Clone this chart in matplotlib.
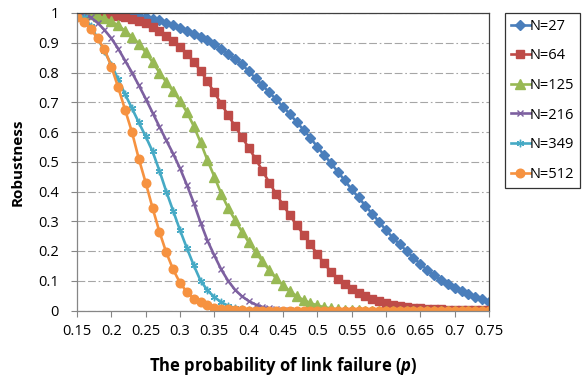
import numpy as np
import matplotlib
matplotlib.use("Agg")
import matplotlib.pyplot as plt

# link failure probability, 0.15 .. 0.75 in steps of 0.01
p = np.round(np.arange(0.15, 0.7501, 0.01), 2)

n27 = [1.0, 1.0, 1.0, 1.0, 0.999, 0.998, 0.997, 0.995, 0.992, 0.989,
       0.985, 0.98, 0.975, 0.967, 0.96, 0.95, 0.94, 0.93, 0.92, 0.91,
       0.897, 0.88, 0.862, 0.845, 0.827, 0.805, 0.78, 0.757, 0.733, 0.71,
       0.685, 0.66, 0.633, 0.607, 0.58, 0.55, 0.522, 0.495, 0.466, 0.437,
       0.407, 0.38, 0.352, 0.325, 0.298, 0.27, 0.245, 0.222, 0.2, 0.178,
       0.156, 0.136, 0.118, 0.102, 0.088, 0.075, 0.065, 0.055, 0.046, 0.038,
       0.03]
n64 = [1.0, 1.0, 1.0, 0.998, 0.996, 0.993, 0.99, 0.986, 0.98, 0.973,
       0.965, 0.953, 0.938, 0.922, 0.905, 0.885, 0.863, 0.836, 0.806, 0.77,
       0.733, 0.695, 0.657, 0.62, 0.584, 0.547, 0.51, 0.47, 0.43, 0.392,
       0.355, 0.32, 0.287, 0.255, 0.222, 0.19, 0.158, 0.13, 0.106, 0.088,
       0.073, 0.06, 0.049, 0.039, 0.031, 0.025, 0.02, 0.016, 0.013, 0.01,
       0.008, 0.006, 0.005, 0.004, 0.003, 0.002, 0.002, 0.001, 0.001, 0.001,
       0.001]
n125 = [1.0, 1.0, 0.995, 0.99, 0.982, 0.972, 0.958, 0.94, 0.92, 0.897,
        0.868, 0.835, 0.8, 0.768, 0.737, 0.705, 0.667, 0.62, 0.565, 0.505,
        0.45, 0.393, 0.345, 0.305, 0.265, 0.23, 0.197, 0.165, 0.135, 0.108,
        0.085, 0.065, 0.048, 0.035, 0.025, 0.017, 0.011, 0.007, 0.004, 0.003,
        0.002, 0.001] + [0.0] * 19
n216 = [1.0, 0.995, 0.985, 0.967, 0.943, 0.915, 0.88, 0.84, 0.8, 0.757,
        0.712, 0.665, 0.618, 0.572, 0.527, 0.478, 0.422, 0.362, 0.295, 0.235,
        0.185, 0.138, 0.1, 0.07, 0.048, 0.032, 0.02, 0.012, 0.007, 0.004,
        0.002, 0.001] + [0.0] * 29
n349 = [0.995, 0.985, 0.957, 0.915, 0.872, 0.826, 0.777, 0.727, 0.68, 0.632,
        0.585, 0.535, 0.47, 0.4, 0.335, 0.27, 0.21, 0.152, 0.1, 0.068,
        0.045, 0.028, 0.016, 0.008, 0.004, 0.002, 0.001] + [0.0] * 34
n512 = [0.985, 0.97, 0.945, 0.915, 0.878, 0.82, 0.75, 0.675, 0.6, 0.51,
        0.43, 0.345, 0.265, 0.195, 0.138, 0.093, 0.062, 0.04, 0.027, 0.017,
        0.01, 0.006, 0.004, 0.002, 0.001] + [0.0] * 36

labels = ["N=27", "N=64", "N=125", "N=216", "N=349", "N=512"]
x_ticks = [0.15, 0.2, 0.25, 0.3, 0.35, 0.4, 0.45, 0.5, 0.55, 0.6, 0.65, 0.7, 0.75]
y_ticks = [0, 0.1, 0.2, 0.3, 0.4, 0.5, 0.6, 0.7, 0.8, 0.9, 1]

plt.rcParams['font.family'] = ['Open Sans', 'DejaVu Sans']
plt.rcParams['mathtext.fontset'] = 'custom'
plt.rcParams['mathtext.it'] = 'Open Sans:italic:bold'

# Excel 2007 style series look
styles = [
    dict(color='#4A7EBB', marker='D', ms=4.6),
    dict(color='#BE4B48', marker='s', ms=6.4),
    dict(color='#98B954', marker='^', ms=6.6),
    dict(color='#7D60A0', marker='x', ms=5.0, mew=1.0),
    dict(color='#46AAC5', marker=(6, 2, 0), ms=5.4, mew=1.0),
    dict(color='#F69240', marker='o', ms=6.2),
]

fig = plt.figure(figsize=(5.84, 3.81), dpi=100)
ax = fig.add_axes([77 / 584, 1 - 310.5 / 381, (489 - 77) / 584, (310.5 - 13) / 381])

for ys, lab, st in zip([n27, n64, n125, n216, n349, n512], labels, styles):
    ax.plot(p, ys, linestyle='-', linewidth=1.9, label=lab,
            markeredgecolor=st['color'], **st)

ax.set_xlim(0.15, 0.75)
ax.set_ylim(0, 1)
ax.set_xticks(x_ticks)
ax.set_xticklabels([f"{v:g}" for v in x_ticks])
ax.set_yticks(y_ticks)
ax.set_yticklabels([f"{v:g}" for v in y_ticks])
ax.tick_params(axis='both', labelsize=10.5, color='#868686', length=4, width=0.8,
               direction='out')
ax.tick_params(axis='x', pad=6)
ax.tick_params(axis='y', pad=9)

ax.yaxis.grid(True, color='#A6A6A6', linewidth=0.8,
              linestyle=(0, (7, 2.5, 7, 2.5, 1.5, 2.5)))
ax.set_axisbelow(True)

for side in ['left', 'bottom']:
    ax.spines[side].set_color('#868686')
for side in ['top', 'right']:
    ax.spines[side].set_color('#404040')
for sp in ax.spines.values():
    sp.set_linewidth(0.9)

ax.set_ylabel('Robustness', fontsize=11, fontweight='bold', labelpad=10)
ax.set_xlabel('The probability of link failure ($p$)', fontsize=12,
              fontweight='bold', labelpad=11)

leg = fig.legend(loc='upper left', bbox_to_anchor=(505 / 584, 1 - 13 / 381),
                 frameon=True, fancybox=False, fontsize=10.5, handlelength=1.3,
                 handletextpad=0.0, labelspacing=1.0, borderpad=0.4,
                 borderaxespad=0)
leg.get_frame().set_edgecolor('#000000')
leg.get_frame().set_linewidth(0.9)

fig.savefig('out.png', dpi=100)
